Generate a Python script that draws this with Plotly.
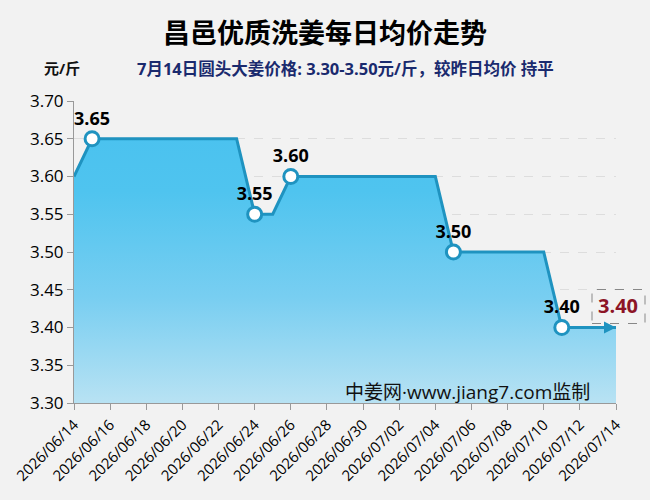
import plotly.graph_objects as go

dates = ["2026-06-14", "2026-06-15", "2026-06-16", "2026-06-17", "2026-06-18", "2026-06-19",
         "2026-06-20", "2026-06-21", "2026-06-22", "2026-06-23", "2026-06-24", "2026-06-25",
         "2026-06-26", "2026-06-27", "2026-06-28", "2026-06-29", "2026-06-30", "2026-07-01",
         "2026-07-02", "2026-07-03", "2026-07-04", "2026-07-05", "2026-07-06", "2026-07-07",
         "2026-07-08", "2026-07-09", "2026-07-10", "2026-07-11", "2026-07-12", "2026-07-13",
         "2026-07-14"]
prices = [3.60, 3.65, 3.65, 3.65, 3.65, 3.65,
          3.65, 3.65, 3.65, 3.65, 3.55, 3.55,
          3.60, 3.60, 3.60, 3.60, 3.60, 3.60,
          3.60, 3.60, 3.60, 3.50, 3.50, 3.50,
          3.50, 3.50, 3.50, 3.40, 3.40, 3.40,
          3.40]
# change points that get a marker and label
marked_dates = ["2026-06-15", "2026-06-24", "2026-06-26", "2026-07-05", "2026-07-11"]
marked_prices = [3.65, 3.55, 3.60, 3.50, 3.40]
last_label = "3.40"

title = "昌邑优质洗姜每日均价走势"
unit = "元/斤"
subtitle = "7月14日圆头大姜价格: 3.30-3.50元/斤，较昨日均价 持平"
watermark = "中姜网·www.jiang7.com监制"

FONT = "Open Sans, Noto Sans CJK SC"
CJK = "Noto Sans CJK SC"
LINE = "#1f93c0"

fig = go.Figure()
fig.add_trace(go.Scatter(
    x=dates, y=prices, mode="lines", fill="tozeroy",
    line=dict(color=LINE, width=3),
    fillgradient=dict(type="vertical", start=3.30, stop=3.70,
                      colorscale=[[0, "#b8e2f3"], [0.35, "#78cef1"], [0.7, "#4fc4ef"], [1, "#48c1ef"]]),
    hoverinfo="skip", showlegend=False))
fig.add_trace(go.Scatter(
    x=marked_dates, y=marked_prices, mode="markers+text",
    text=[f"{v:.2f}" for v in marked_prices], textposition="top center",
    textfont=dict(family=FONT, size=18, color="#000000", weight="bold"),
    marker=dict(symbol="circle", size=14, color="white", line=dict(color=LINE, width=3)),
    cliponaxis=False, showlegend=False))
fig.add_trace(go.Scatter(
    x=[dates[-1]], y=[prices[-1]], mode="markers",
    marker=dict(symbol="arrow-right", size=12, color=LINE, line=dict(width=0)),
    cliponaxis=False, showlegend=False))

fig.add_annotation(text=f"<b>{title}</b>", xref="paper", yref="paper", x=0.5, y=1.0,
                   xanchor="center", yanchor="middle", yshift=70, xshift=-20, showarrow=False,
                   font=dict(family=CJK, size=27, color="#000000"))
fig.add_annotation(text=f"<b>{unit}</b>", xref="paper", yref="paper", x=0, y=1.0,
                   xanchor="left", yanchor="middle", yshift=33, xshift=-32, showarrow=False,
                   font=dict(family=FONT, size=15, color="#111111"))
fig.add_annotation(text=f"<b>{subtitle}</b>", xref="paper", yref="paper", x=0, y=1.0,
                   xanchor="left", yanchor="middle", yshift=33, xshift=61, showarrow=False,
                   font=dict(family=FONT, size=16.5, color="#1a2a6e"))
fig.add_annotation(text=watermark, xref="paper", yref="paper", x=0.955, y=0.0,
                   xanchor="right", yanchor="middle", yshift=11, showarrow=False,
                   font=dict(family=FONT, size=19, color="#111111"))
fig.add_annotation(text=f"<b>{last_label}</b>", xref="paper", yref="y", x=1.0, y=prices[-1],
                   xanchor="center", yanchor="middle", xshift=2, yshift=22, showarrow=False,
                   font=dict(family=FONT, size=20, color="#8c1426"))
fig.add_shape(type="rect", xref="paper", yref="y", xsizemode="pixel", ysizemode="pixel",
              xanchor=1.0, yanchor=prices[-1], x0=-24, x1=29, y0=4, y1=38,
              line=dict(color="#888888", width=1, dash="dash"), fillcolor="rgba(0,0,0,0)")

fig.update_layout(
    width=650, height=500,
    margin=dict(l=72, r=34, t=101, b=97),
    paper_bgcolor="#f2f2f2", plot_bgcolor="#f2f2f2",
    font=dict(family=FONT, color="#000000"),
    showlegend=False,
    xaxis=dict(type="date", range=["2026-06-14", "2026-07-14"],
               tick0="2026-06-14", dtick=2 * 86400000, tickformat="%Y/%m/%d",
               tickangle=-45, ticks="outside", ticklen=6, tickcolor="#999999",
               showline=True, linecolor="#999999", linewidth=1, showgrid=False,
               tickfont=dict(family=FONT, size=15, color="#000000")),
    yaxis=dict(range=[3.30, 3.70], dtick=0.05, tickformat=".2f",
               ticks="outside", ticklen=6, tickcolor="#999999",
               showline=True, linecolor="#999999", linewidth=1,
               showgrid=True, gridcolor="#dddddd", griddash="dash", zeroline=False,
               tickfont=dict(family=FONT, size=17, color="#000000")),
)

fig.write_html("out.html")
